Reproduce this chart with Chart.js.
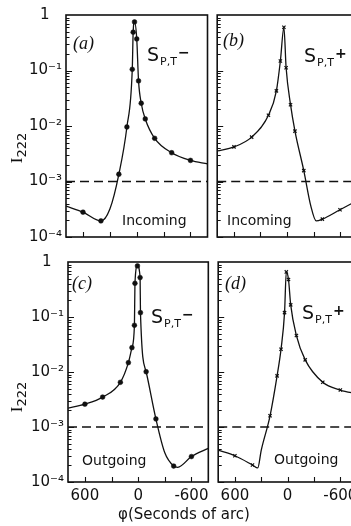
<!DOCTYPE html>
<html>
<head>
<meta charset="utf-8">
<script src="https://cdn.jsdelivr.net/npm/chart.js@4.4.1/dist/chart.umd.min.js"></script>
<style>
body { margin: 0; background: #fff; }
#fig { position: relative; width: 351px; height: 526px; overflow: hidden; background: #fff; }
#fig canvas { position: absolute; }
.txt { position: absolute; color: #111; line-height: 1; white-space: nowrap; }
.panel { font: italic 18px "Liberation Serif", serif; }
.tag { font: 19px "DejaVu Sans", sans-serif; }
.tag .sub { font-size: 11px; position: relative; top: 4px; margin-left: 1px; }
.tag .sgn { font-size: 14px; font-weight: bold; position: relative; top: -4px; margin-left: 1px; }
.note { font: 14px "DejaVu Sans", sans-serif; }
.ylab { font: 17px "Liberation Serif", serif; transform: rotate(-90deg); transform-origin: center center; }
.ylab span { font: 13px "DejaVu Sans", sans-serif; position: relative; top: 4px; }
.xlab { font: 15px "DejaVu Sans", sans-serif; }
</style>
</head>
<body>
<div id="fig">
  <canvas id="chartA" width="212" height="250" style="left:0px;top:0px"></canvas>
  <canvas id="chartB" width="150" height="250" style="left:212px;top:0px"></canvas>
  <canvas id="chartC" width="214" height="279" style="left:0px;top:247px"></canvas>
  <canvas id="chartD" width="150" height="279" style="left:213px;top:247px"></canvas>

  <div class="txt panel" style="left:73px;top:33px">(a)</div>
  <div class="txt panel" style="left:223px;top:30px">(b)</div>
  <div class="txt panel" style="left:72px;top:273px">(c)</div>
  <div class="txt panel" style="left:225px;top:273px">(d)</div>

  <div class="txt tag" style="left:147px;top:43px">S<span class="sub">P,T</span><span class="sgn">−</span></div>
  <div class="txt tag" style="left:304px;top:44px">S<span class="sub">P,T</span><span class="sgn">+</span></div>
  <div class="txt tag" style="left:151px;top:305px">S<span class="sub">P,T</span><span class="sgn">−</span></div>
  <div class="txt tag" style="left:302px;top:301px">S<span class="sub">P,T</span><span class="sgn">+</span></div>

  <div class="txt note" style="left:122px;top:212px">Incoming</div>
  <div class="txt note" style="left:227px;top:212px">Incoming</div>
  <div class="txt note" style="left:82px;top:452px">Outgoing</div>
  <div class="txt note" style="left:274px;top:451px">Outgoing</div>

  <div class="txt ylab" style="left:2px;top:138px">I<span>222</span></div>
  <div class="txt ylab" style="left:2px;top:387px">I<span>222</span></div>

  <div class="txt xlab" style="left:118px;top:505px">φ(Seconds of arc)</div>
</div>

<script>
// axis settings
const xTicks = [600, 300, 0, -300, -600];
const xTickLabels = ['600', '', '0', '', '-600'];
const yTicks = [1e-4, 1e-3, 1e-2, 1e-1, 1];
// the "1" sits over the middle of the other labels, hence the trailing spaces
const yTickLabels = ['10⁻⁴', '10⁻³', '10⁻²', '10⁻¹', '1\u2007\u2009'];
const refLevel = 1e-3;

// (a) S P,T -, incoming (dots)
const phiA = [600, 400, 200, 110, 50, 40, 25, 0, -20, -50, -95, -200, -390, -600];
const intA = [2.8e-4, 1.95e-4, 1.35e-3, 9.6e-3, 0.105, 0.49, 0.75, 0.37, 0.065, 0.0257, 0.0134, 6.0e-3, 3.3e-3, 2.4e-3];
// extra points (edges, bends)
const phiAExtra = [790, 300, -790];
const intAExtra = [3.6e-4, 3.2e-4, 2.08e-3];

// (b) S P,T +, incoming (crosses)
const phiB = [600, 400, 210, 120, 75, 35, 10, -40, -90, -190, -400, -600];
const intB = [4.2e-3, 6.3e-3, 0.0156, 0.043, 0.148, 0.6, 0.112, 0.0242, 8.1e-3, 1.57e-3, 2.1e-4, 3.1e-4];
const phiBExtra = [790, -270, -330, -790];
const intBExtra = [3.55e-3, 3.6e-4, 1.95e-4, 4.5e-4];

// (c) S P,T -, outgoing (dots)
const phiC = [600, 400, 200, 110, 70, 42, 36, 8, -22, -26, -90, -200, -400, -600];
const intC = [2.6e-3, 3.5e-3, 6.5e-3, 0.0148, 0.0277, 0.0706, 0.41, 0.85, 0.52, 0.12, 0.0101, 1.4e-3, 1.95e-4, 2.9e-4];
const phiCExtra = [790, -300, -445, -790];
const intCExtra = [2.2e-3, 3.4e-4, 1.85e-4, 4.1e-4];

// (d) S P,T +, outgoing (crosses)
const phiD = [600, 400, 200, 120, 75, 35, 15, -10, -35, -100, -200, -400, -600];
const intD = [3.0e-4, 2.04e-4, 1.6e-3, 8.5e-3, 0.026, 0.12, 0.66, 0.48, 0.166, 0.046, 0.0166, 6.5e-3, 4.7e-3];
const phiDExtra = [790, 340, 300, -790];
const intDExtra = [3.8e-4, 1.8e-4, 3.8e-4, 4.0e-3];

function toPoints(xs, ys) {
    return xs.map((x, i) => ({x: x, y: ys[i]}));
}

// curve = markers + extra points, sorted left to right (axis is reversed)
function curvePoints(xs, ys, ex, ey) {
    return toPoints(xs, ys).concat(toPoints(ex, ey)).sort((p, q) => q.x - p.x);
}

// frame + inward tick marks
const framePlugin = {
    id: 'frame',
    afterDatasetsDraw(chart) {
        const ctx = chart.ctx;
        const a = chart.chartArea;
        const sx = chart.scales.x, sy = chart.scales.y;
        ctx.save();
        ctx.strokeStyle = '#111';
        ctx.lineWidth = 1.1;
        ctx.beginPath();
        xTicks.forEach(v => {
            const px = Math.round(sx.getPixelForValue(v)) + 0.5;
            ctx.moveTo(px, a.bottom);
            ctx.lineTo(px, a.bottom - 5);
        });
        for (let e = -4; e < 0; e++) {
            for (let m = 1; m < 10; m++) {
                const py = Math.round(sy.getPixelForValue(m * Math.pow(10, e))) + 0.5;
                ctx.moveTo(a.left, py);
                ctx.lineTo(a.left + (m === 1 ? 6 : 3.5), py);
            }
        }
        ctx.stroke();
        ctx.lineWidth = 1.6;
        ctx.strokeRect(a.left, a.top, a.right - a.left, a.bottom - a.top);
        ctx.restore();
    }
};

function makePanel(id, xs, ys, ex, ey, marker, opts) {
    const ctx = document.getElementById(id).getContext('2d');
    return new Chart(ctx, {
        type: 'line',
        data: {
            datasets: [
                {
                    data: [{x: 790, y: refLevel}, {x: -790, y: refLevel}],
                    borderColor: '#111',
                    borderWidth: 1.5,
                    borderDash: [9, 5],
                    pointRadius: 0,
                },
                {
                    data: curvePoints(xs, ys, ex, ey),
                    borderColor: '#111',
                    borderWidth: 1.3,
                    cubicInterpolationMode: 'monotone',
                    pointRadius: 0,
                },
                {
                    data: toPoints(xs, ys),
                    showLine: false,
                    pointStyle: marker,
                    pointRadius: marker === 'circle' ? 2.4 : 2.3,
                    pointBorderWidth: marker === 'circle' ? 0.5 : 1.2,
                    pointBackgroundColor: '#111',
                    pointBorderColor: '#111',
                }
            ]
        },
        options: {
            responsive: false,
            animation: false,
            layout: {padding: {top: 15, right: 4, left: 0, bottom: 0}},
            plugins: {legend: {display: false}, tooltip: {enabled: false}},
            scales: {
                x: {
                    type: 'linear',
                    reverse: true,
                    min: -790,
                    max: 790,
                    grid: {display: false, drawTicks: false},
                    border: {display: false},
                    afterBuildTicks: s => { s.ticks = xTicks.map(v => ({value: v})); },
                    afterFit: s => { s.height = opts.xh; },
                    ticks: {
                        display: opts.xLabels,
                        autoSkip: false,
                        maxRotation: 0,
                        padding: 5,
                        color: '#111',
                        font: {family: 'DejaVu Sans', size: 15},
                        callback: (v, i) => xTickLabels[i]
                    }
                },
                y: {
                    type: 'logarithmic',
                    min: 1e-4,
                    max: 1,
                    grid: {display: false, drawTicks: false},
                    border: {display: false},
                    afterBuildTicks: s => { s.ticks = yTicks.map(v => ({value: v})); },
                    afterFit: s => { s.width = opts.yw; },
                    ticks: {
                        display: opts.yLabels,
                        autoSkip: false,
                        padding: 4,
                        color: '#111',
                        font: {family: 'DejaVu Sans', size: 15},
                        callback: (v, i) => yTickLabels[i]
                    }
                }
            }
        },
        plugins: [framePlugin]
    });
}

makePanel('chartA', phiA, intA, phiAExtra, intAExtra, 'circle', {xh: 13, yw: 66, xLabels: false, yLabels: true});
makePanel('chartB', phiB, intB, phiBExtra, intBExtra, 'crossRot', {xh: 13, yw: 3, xLabels: false, yLabels: false});
makePanel('chartC', phiC, intC, phiCExtra, intCExtra, 'circle', {xh: 44, yw: 68, xLabels: true, yLabels: true});
makePanel('chartD', phiD, intD, phiDExtra, intDExtra, 'crossRot', {xh: 44, yw: 3, xLabels: true, yLabels: false});
</script>
</body>
</html>
